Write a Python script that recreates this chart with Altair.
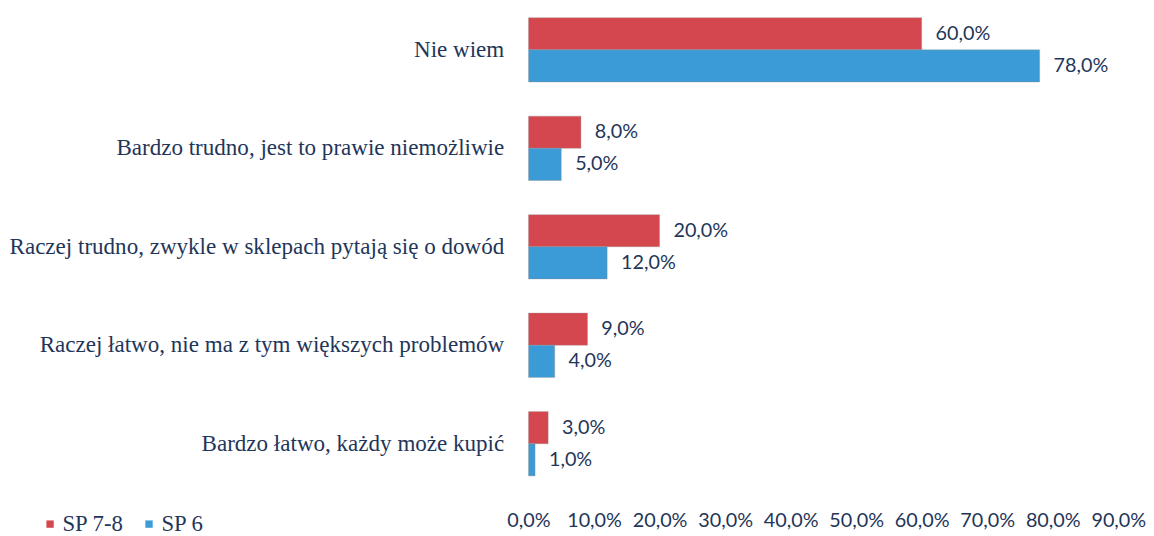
import altair as alt
import pandas as pd

categories = [
    "Nie wiem",
    "Bardzo trudno, jest to prawie niemożliwie",
    "Raczej trudno, zwykle w sklepach pytają się o dowód",
    "Raczej łatwo, nie ma z tym większych problemów",
    "Bardzo łatwo, każdy może kupić",
]
series = ["SP 7-8", "SP 6"]
sp78 = [60.0, 8.0, 20.0, 9.0, 3.0]
sp6 = [78.0, 5.0, 12.0, 4.0, 1.0]
x_ticks = [0, 10, 20, 30, 40, 50, 60, 70, 80, 90]

rows = []
for c, a, b in zip(categories, sp78, sp6):
    rows.append({"cat": c, "series": series[0], "val": a})
    rows.append({"cat": c, "series": series[1], "val": b})
df = pd.DataFrame(rows)
df["label"] = df["val"].map(lambda v: f"{v:.1f}".replace(".", ",") + "%")

TEXT = "#1f3659"

y_enc = alt.Y("cat:N", sort=categories, title=None,
              scale=alt.Scale(paddingInner=0.347, paddingOuter=0.07),
              axis=alt.Axis(labelFont="Liberation Serif", labelFontSize=23.3,
                            labelColor=TEXT, labelPadding=25, ticks=False,
                            domain=False, labelLimit=600))
x_enc = alt.X("val:Q", title=None,
              scale=alt.Scale(domain=[0, 90], nice=False),
              axis=alt.Axis(values=x_ticks, grid=False, ticks=False, domain=False,
                            labelOverlap=False, labelFlush=False,
                            labelFont="Lato", labelFontSize=20, labelColor=TEXT,
                            labelPadding=28,
                            labelExpr="replace(format(datum.value, '.1f'), '.', ',') + '%'"))
yoff = alt.YOffset("series:N", sort=series)

bars = alt.Chart(df).mark_bar(stroke="#9a8f8f", strokeWidth=0.6, strokeOpacity=0.6).encode(
    y=y_enc, x=x_enc, yOffset=yoff,
    color=alt.Color("series:N", sort=series,
                    scale=alt.Scale(domain=series, range=["#d4474f", "#3a9bd6"]),
                    legend=alt.Legend(title=None, orient="none", direction="horizontal",
                                      legendX=-495, legendY=507,
                                      symbolType="square", symbolSize=55,
                                      symbolStrokeWidth=0,
                                      labelFont="Liberation Serif", labelFontSize=23,
                                      labelColor=TEXT, columnPadding=14, labelOffset=1)),
)

labels = alt.Chart(df).mark_text(align="left", baseline="middle", dx=14,
                                 font="Lato", fontSize=20, color=TEXT).encode(
    y=alt.Y("cat:N", sort=categories), x="val:Q", yOffset=yoff, text="label:N"
)

chart = alt.layer(bars, labels).properties(
    width=596, height=477, padding=0
).configure_view(stroke=None)

chart.save("out.html", embed_options={"renderer": "svg", "actions": False})
